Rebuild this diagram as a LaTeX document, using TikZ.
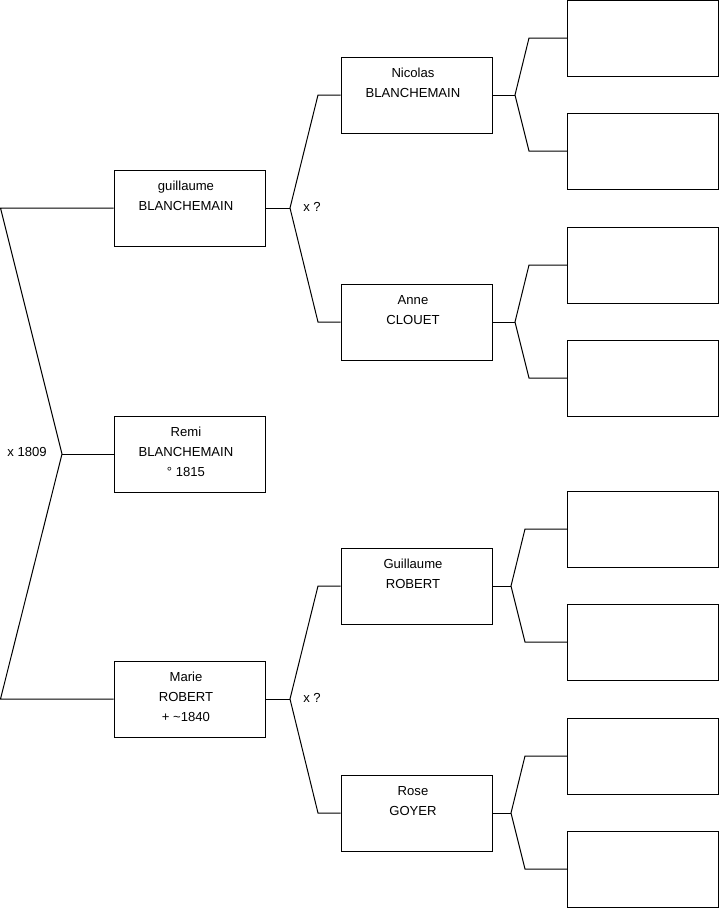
\documentclass[tikz,border=0pt]{standalone}
\usepackage{fontspec}
\setmainfont{Liberation Sans}
\begin{document}
\begin{tikzpicture}[x=1pt,y=-1pt,
  box/.style={draw=black,line width=1pt,minimum width=151pt,minimum height=76pt,inner sep=0pt},
  txt/.style={anchor=base,inner sep=0pt,xshift=-3.5pt,font=\fontsize{13.1}{15}\selectfont},
  mlab/.style={inner sep=0pt,font=\fontsize{13.1}{15}\selectfont},
  conn/.style={draw=black,line width=1pt}]
\useasboundingbox (0,0) rectangle (719,908);
% generation 1
\node[box] (g) at (189.5,208) {};
\node[box] (r) at (189.5,454) {};
\node[box] (m) at (189.5,699) {};
% generation 2
\node[box] (n) at (416.5,95) {};
\node[box] (a) at (416.5,322) {};
\node[box] (gr) at (416.5,586) {};
\node[box] (rg) at (416.5,813) {};
% generation 3
\node[box] (b1) at (643,38) {};
\node[box] (b2) at (643,151) {};
\node[box] (b3) at (643,265) {};
\node[box] (b4) at (643,378) {};
\node[box] (b5) at (643,529) {};
\node[box] (b6) at (643,642) {};
\node[box] (b7) at (643,756) {};
\node[box] (b8) at (643,869) {};
% texts
\node[txt] (g1) at ([yshift=-21pt]g.north) {guillaume};
\node[txt] (g2) at ([yshift=-41pt]g.north) {BLANCHEMAIN};
\node[txt] (r1) at ([yshift=-21pt]r.north) {Remi};
\node[txt] (r2) at ([yshift=-41pt]r.north) {BLANCHEMAIN};
\node[txt] (r3) at ([yshift=-61pt]r.north) {° 1815};
\node[txt] (m1) at ([yshift=-21pt]m.north) {Marie};
\node[txt] (m2) at ([yshift=-41pt]m.north) {ROBERT};
\node[txt] (m3) at ([yshift=-61pt]m.north) {+ \textasciitilde 1840};
\node[txt] (n1) at ([yshift=-21pt]n.north) {Nicolas};
\node[txt] (n2) at ([yshift=-41pt]n.north) {BLANCHEMAIN};
\node[txt] (a1) at ([yshift=-21pt]a.north) {Anne};
\node[txt] (a2) at ([yshift=-41pt]a.north) {CLOUET};
\node[txt] (gr1) at ([yshift=-21pt]gr.north) {Guillaume};
\node[txt] (gr2) at ([yshift=-41pt]gr.north) {ROBERT};
\node[txt] (rg1) at ([yshift=-21pt]rg.north) {Rose};
\node[txt] (rg2) at ([yshift=-41pt]rg.north) {GOYER};
% junction coordinates
\coordinate (j0) at (62,454);
\coordinate (j0t) at (0.5,208);
\coordinate (j0b) at (0.5,699);
\coordinate (jg) at (290,208);
\coordinate (jm) at (290,699);
\coordinate (jn) at (515,95);
\coordinate (ja) at (515,322);
\coordinate (jgr) at (511,586);
\coordinate (jrg) at (511,813);
% marriage labels
\node[mlab] (x0) at (27,452) {x 1809};
\node[mlab] (xg) at (312,207) {x ?};
\node[mlab] (xm) at (312,698) {x ?};
% connectors
\draw[conn] (g.west) -- (j0t) -- (j0) -- (j0b) -- (m.west);
\draw[conn] (j0) -- (r.west);
\draw[conn] (g.east) -- (jg);
\draw[conn] (n.west) -- (318,95) -- (jg) -- (318,322) -- (a.west);
\draw[conn] (m.east) -- (jm);
\draw[conn] (gr.west) -- (318,586) -- (jm) -- (318,813) -- (rg.west);
\draw[conn] (n.east) -- (jn);
\draw[conn] (b1.west) -- (529,38) -- (jn) -- (529,151) -- (b2.west);
\draw[conn] (a.east) -- (ja);
\draw[conn] (b3.west) -- (529,265) -- (ja) -- (529,378) -- (b4.west);
\draw[conn] (gr.east) -- (jgr);
\draw[conn] (b5.west) -- (525,529) -- (jgr) -- (525,642) -- (b6.west);
\draw[conn] (rg.east) -- (jrg);
\draw[conn] (b7.west) -- (525,756) -- (jrg) -- (525,869) -- (b8.west);
\end{tikzpicture}
\end{document}
